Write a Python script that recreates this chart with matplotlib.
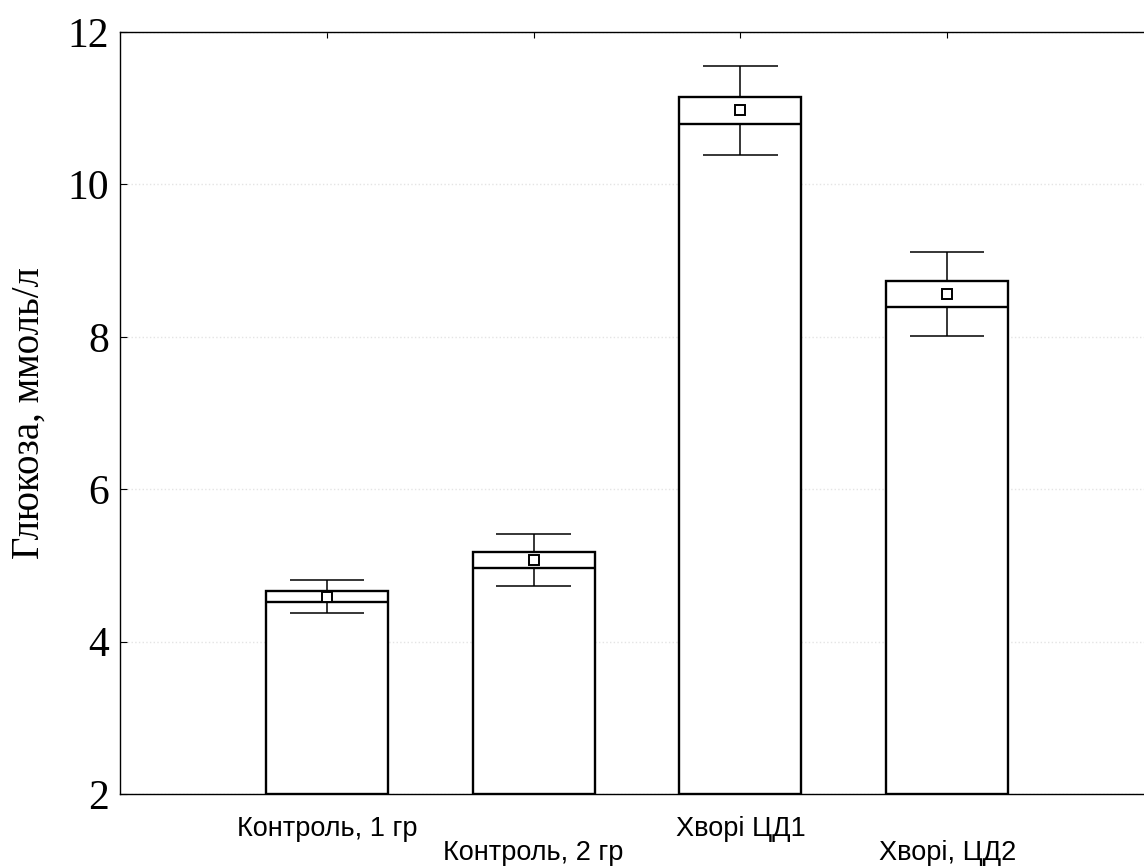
import matplotlib
matplotlib.use("Agg")
import matplotlib.pyplot as plt
import numpy as np

categories = ["Контроль, 1 гр", "Контроль, 2 гр", "Хворі ЦД1", "Хворі, ЦД2"]
means = [4.59, 5.07, 10.97, 8.56]
se = [0.07, 0.11, 0.18, 0.17]
sd = [0.22, 0.34, 0.58, 0.55]
yticks = [2, 4, 6, 8, 10, 12]

W, H = 1144, 867
fig = plt.figure(figsize=(W / 100, H / 100), dpi=100)
ax = fig.add_axes([120 / W, (H - 794) / H, 1034 / W, 762 / H])

x = np.arange(len(categories))
m = np.array(means)
s = np.array(se)
d = np.array(sd)
base = 2
bw = 0.59
cw = 0.36

ax.bar(x, m + s - base, bottom=base, width=bw, facecolor="white",
       edgecolor="black", linewidth=1.7, zorder=3)
ax.hlines(m - s, x - bw / 2, x + bw / 2, colors="black", linewidth=1.7, zorder=4)
ax.vlines(x, m + s, m + d, colors="black", linewidth=1.1, zorder=4)
ax.vlines(x, m - d, m - s, colors="black", linewidth=1.1, zorder=4)
ax.hlines(m + d, x - cw / 2, x + cw / 2, colors="black", linewidth=1.1, zorder=4)
ax.hlines(m - d, x - cw / 2, x + cw / 2, colors="black", linewidth=1.1, zorder=4)
ax.plot(x, m, ls="none", marker="s", markersize=7.5, markerfacecolor="white",
        markeredgecolor="black", markeredgewidth=1.4, zorder=5)

ax.set_xlim(-1, 4)
ax.set_ylim(2, 12)
ax.set_yticks(yticks)
ax.set_yticklabels([str(t) for t in yticks], family="Liberation Serif", fontsize=30)
ax.set_xticks(x)
labels = [c if i % 2 == 0 else "\n" + c for i, c in enumerate(categories)]
ax.set_xticklabels(labels, family=["Liberation Sans Narrow", "Liberation Sans", "DejaVu Sans"],
                   fontsize=19.5, linespacing=0.88)
ax.tick_params(axis="x", direction="in", top=True, length=4, pad=16)
ax.tick_params(axis="y", direction="in", length=5, pad=8)
ax.yaxis.grid(True, color="#e4e4e4", linestyle=":", linewidth=1.0, zorder=0)
ax.set_axisbelow(True)
for sp in ax.spines.values():
    sp.set_linewidth(1.0)

ax.set_ylabel("Глюкоза, ммоль/л", family="Liberation Serif", fontsize=28, labelpad=14)

fig.savefig("out.png", dpi=100, facecolor="white")
